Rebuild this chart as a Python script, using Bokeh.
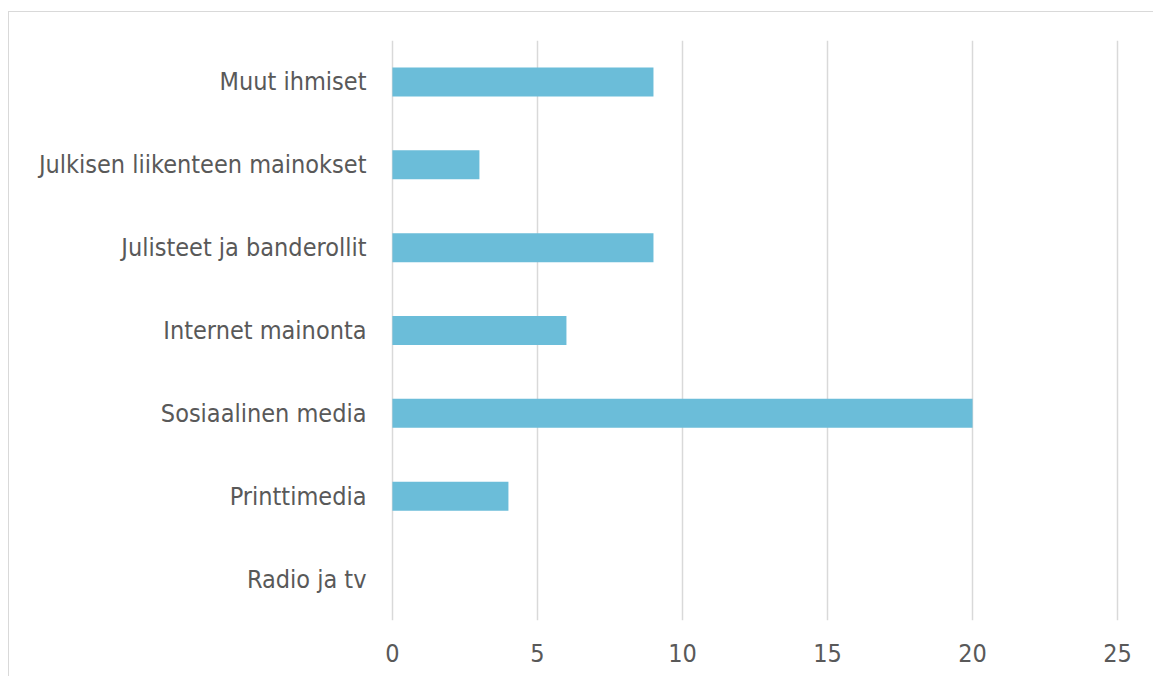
from bokeh.plotting import figure
from bokeh.models import FactorRange, Range1d, FixedTicker, ColumnDataSource
from bokeh.embed import file_html
from bokeh.resources import INLINE

categories = ["Radio ja tv", "Printtimedia", "Sosiaalinen media", "Internet mainonta",
              "Julisteet ja banderollit", "Julkisen liikenteen mainokset", "Muut ihmiset"]
values = [0, 4, 20, 6, 9, 3, 9]
x_ticks = [0, 5, 10, 15, 20, 25]

FONT = "DejaVu Sans Condensed"

src = ColumnDataSource(dict(cat=categories, val=values))

p = figure(width=1145, height=665, y_range=FactorRange(*categories), x_range=Range1d(-0.1, 25.1),
           output_backend="svg", toolbar_location=None,
           min_border_left=380, min_border_right=34, min_border_top=28, min_border_bottom=57)
p.styles = {"margin-left": "8px", "margin-top": "11px",
            "border-left": "1px solid #D9D9D9", "border-top": "1px solid #D9D9D9"}

p.hbar(y="cat", right="val", left=0, height=0.35, source=src, color="#6BBDD9", line_color=None)

p.outline_line_color = None
p.ygrid.grid_line_color = None
p.xgrid.grid_line_color = "#D9D9D9"
p.xgrid.grid_line_width = 1.5
p.xaxis.ticker = FixedTicker(ticks=x_ticks)

for ax in (p.xaxis[0], p.yaxis[0]):
    ax.axis_line_color = None
    ax.major_tick_line_color = None
    ax.minor_tick_line_color = None
    ax.major_label_text_font = FONT
    ax.major_label_text_font_size = "25px"
    ax.major_label_text_color = "#595959"
p.yaxis.major_label_standoff = 17
p.xaxis.major_label_standoff = 17

open("out.html", "w").write(file_html(p, INLINE))
